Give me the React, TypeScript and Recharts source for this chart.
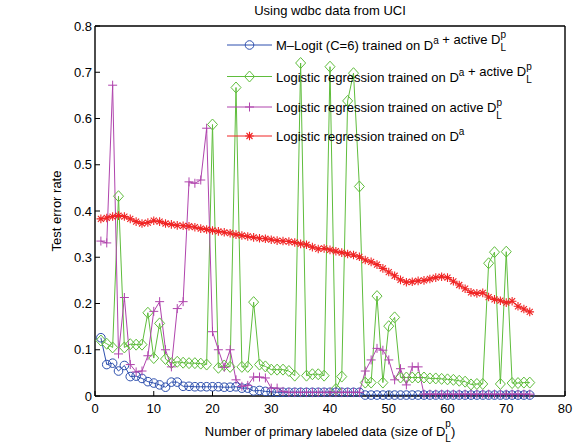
import React from "react";
import { LineChart, Line, XAxis, YAxis, Legend } from "recharts";

// test error rates, sample sizes 1..74
const mLogit = [
  0.126, 0.068, 0.071, 0.054, 0.066, 0.042, 0.043, 0.038, 0.031, 0.028,
  0.024, 0.019, 0.03, 0.03, 0.021, 0.021, 0.02, 0.02, 0.02, 0.02,
  0.02, 0.019, 0.019, 0.02, 0.017, 0.017, 0.011, 0.012, 0.01, 0.009,
  0.008, 0.008, 0.008, 0.008, 0.008, 0.008, 0.008, 0.008, 0.008, 0.008,
  0.008, 0.008, 0.008, 0.008, 0.008, 0.002, 0.002, 0.002, 0.002, 0.002,
  0.002, 0.002, 0.002, 0.002, 0.002, 0.002, 0.002, 0.002, 0.002, 0.002,
  0.002, 0.002, 0.002, 0.002, 0.002, 0.002, 0.002, 0.002, 0.002, 0.002,
  0.002, 0.002, 0.002, 0.002,
];
const lrBoth = [
  0.12, 0.113, 0.105, 0.432, 0.105, 0.112, 0.111, 0.111, 0.18, 0.082,
  0.157, 0.08, 0.071, 0.074, 0.072, 0.071, 0.071, 0.07, 0.068, 0.587,
  0.061, 0.066, 0.063, 0.667, 0.063, 0.063, 0.203, 0.068, 0.064, 0.057,
  0.057, 0.057, 0.054, 0.044, 0.72, 0.044, 0.047, 0.047, 0.044, 0.712,
  0.015, 0.042, 0.638, 0.698, 0.453, 0.029, 0.029, 0.216, 0.029, 0.151,
  0.17, 0.04, 0.04, 0.04, 0.04, 0.04, 0.038, 0.038, 0.037, 0.036,
  0.035, 0.033, 0.031, 0.025, 0.026, 0.026, 0.287, 0.311, 0.026, 0.312,
  0.028, 0.028, 0.029, 0.029,
];
const lrActive = [
  0.335, 0.331, 0.672, 0.091, 0.213, 0.068, 0.052, 0.054, 0.087, 0.183,
  0.204, 0.1, 0.063, 0.189, 0.204, 0.463, 0.46, 0.467, 0.579, 0.139,
  0.1, 0.062, 0.1, 0.035, 0.021, 0.023, 0.041, 0.041, 0.039, 0.017,
  0.017, 0.01, 0.008, 0.008, 0.008, 0.008, 0.008, 0.008, 0.008, 0.008,
  0.008, 0.008, 0.008, 0.008, 0.008, 0.054, 0.078, 0.103, 0.099, 0.078,
  0.035, 0.059, 0.024, 0.063, 0.063, 0.004, 0.004, 0.004, 0.004, 0.004,
  0.004, 0.004, 0.004, 0.004, 0.004, 0.004, 0.004, 0.004, 0.004, 0.004,
  0.004, 0.004, 0.004, 0.004,
];
const lrDa = [
  0.383, 0.385, 0.388, 0.39, 0.388, 0.383, 0.377, 0.373, 0.375, 0.379,
  0.377, 0.373, 0.371, 0.369, 0.368, 0.367, 0.365, 0.362, 0.36, 0.358,
  0.356, 0.354, 0.352, 0.349, 0.347, 0.345, 0.343, 0.341, 0.34, 0.338,
  0.336, 0.335, 0.334, 0.332, 0.329, 0.327, 0.322, 0.318, 0.319, 0.316,
  0.313, 0.31, 0.307, 0.305, 0.301, 0.294, 0.29, 0.284, 0.276, 0.268,
  0.26, 0.251, 0.246, 0.247, 0.249, 0.25, 0.253, 0.256, 0.258, 0.256,
  0.248, 0.24, 0.232, 0.224, 0.222, 0.223, 0.214, 0.209, 0.206, 0.202,
  0.205, 0.194, 0.188, 0.182,
];

const xTicks = [0, 10, 20, 30, 40, 50, 60, 70, 80];
const yTicks = [0, 0.1, 0.2, 0.3, 0.4, 0.5, 0.6, 0.7, 0.8];

const data = lrDa.map((v, i) => ({
  x: i + 1,
  mLogit: mLogit[i],
  lrBoth: lrBoth[i],
  lrActive: lrActive[i],
  lrDa: v,
}));

const BLUE = "#2d4fae";
const GREEN = "#5fbd3c";
const PURPLE = "#b044ad";
const RED = "#f02424";
const FONT = "'Liberation Sans', Arial, Helvetica, sans-serif";

const circle = (cx: number, cy: number, k?: any) => (
  <circle key={k} cx={cx} cy={cy} r={4.3} fill="none" stroke={BLUE} strokeWidth={1} />
);
const diamond = (cx: number, cy: number, k?: any) => (
  <path
    key={k}
    d={`M${cx},${cy - 5.5}L${cx + 5},${cy}L${cx},${cy + 5.5}L${cx - 5},${cy}Z`}
    fill="none"
    stroke={GREEN}
    strokeWidth={1}
  />
);
const plus = (cx: number, cy: number, k?: any) => (
  <path
    key={k}
    d={`M${cx - 4.5},${cy}H${cx + 4.5}M${cx},${cy - 4.5}V${cy + 4.5}`}
    stroke={PURPLE}
    strokeWidth={1}
  />
);
const star = (cx: number, cy: number, k?: any) => {
  const r = 4.3;
  const d = r * 0.7;
  return (
    <path
      key={k}
      d={`M${cx - r},${cy}H${cx + r}M${cx},${cy - r}V${cy + r}M${cx - d},${cy - d}L${cx + d},${cy + d}M${cx - d},${cy + d}L${cx + d},${cy - d}`}
      stroke={RED}
      strokeWidth={1.1}
    />
  );
};

const dotOf = (fn: any) => (p: any) => fn(p.cx, p.cy, `d${p.index}`);

// D with stacked super p / sub L
const DLp = () => [
  <tspan key="p" dy={-6} fontSize={10}>p</tspan>,
  <tspan key="L" dx={-5.6} dy={13} fontSize={10}>L</tspan>,
  <tspan key="r" dy={-7}>{""}</tspan>,
];
const Da = () => [
  <tspan key="a" dy={-6} fontSize={10}>a</tspan>,
  <tspan key="b" dy={6}>{""}</tspan>,
];

const legendRows = [
  { y: 45, color: BLUE, mark: circle, text: <>M–Logit (C=6) trained on D{Da()} + active D{DLp()}</> },
  { y: 76.5, color: GREEN, mark: diamond, text: <>Logistic regression trained on D{Da()} + active D{DLp()}</> },
  { y: 107, color: PURPLE, mark: plus, text: <>Logistic regression trained on active D{DLp()}</> },
  { y: 136, color: RED, mark: star, text: <>Logistic regression trained on D{Da()}</> },
];

const renderLegend = () => (
  <svg width={581} height={446} style={{ position: "absolute", left: 0, top: 0, overflow: "visible" }}>
    {legendRows.map((r, i) => (
      <g key={i}>
        <line x1={227} x2={272} y1={r.y} y2={r.y} stroke={r.color} strokeWidth={1} />
        {r.mark(249.5, r.y)}
        <text x={276} y={r.y + 5} fontSize={13} fontFamily={FONT} fill="#000">
          {r.text}
        </text>
      </g>
    ))}
  </svg>
);

export default function App() {
  const tickStyle = { fill: "#000", fontSize: 13, fontFamily: FONT };
  return (
    <div style={{ position: "absolute", left: 0, top: 0, width: 581, height: 446, background: "#fff" }}>
      <LineChart width={581} height={446} data={data} margin={{ top: 21, right: 11, left: 0, bottom: 0 }}>
        <XAxis
          dataKey="x"
          type="number"
          domain={[0, 80]}
          ticks={xTicks}
          height={50}
          tickSize={-5}
          tickMargin={13}
          tick={tickStyle}
          stroke="#000"
          strokeWidth={1.4}
          tickLine={{ stroke: "#000", strokeWidth: 1 }}
        />
        <XAxis
          xAxisId="top"
          orientation="top"
          dataKey="x"
          type="number"
          domain={[0, 80]}
          ticks={xTicks}
          height={5}
          tickSize={-5}
          tick={false}
          stroke="#000"
          strokeWidth={1.4}
          tickLine={{ stroke: "#000", strokeWidth: 1 }}
        />
        <YAxis
          domain={[0, 0.8]}
          ticks={yTicks}
          width={95}
          tickSize={-5}
          tickMargin={8}
          tick={tickStyle}
          tickFormatter={(v: number) => String(v)}
          stroke="#000"
          strokeWidth={1.4}
          tickLine={{ stroke: "#000", strokeWidth: 1 }}
        />
        <YAxis
          yAxisId="right"
          orientation="right"
          domain={[0, 0.8]}
          ticks={yTicks}
          width={5}
          tickSize={-5}
          tick={false}
          stroke="#000"
          strokeWidth={1.4}
          tickLine={{ stroke: "#000", strokeWidth: 1 }}
        />
        <Legend
          layout="horizontal"
          verticalAlign="middle"
          content={renderLegend}
          wrapperStyle={{ left: 0, top: 0, width: 581, height: 446, pointerEvents: "none" }}
        />
        <Line dataKey="mLogit" stroke={BLUE} strokeWidth={1} dot={dotOf(circle)} isAnimationActive={false} />
        <Line dataKey="lrBoth" stroke={GREEN} strokeWidth={1} dot={dotOf(diamond)} isAnimationActive={false} />
        <Line dataKey="lrActive" stroke={PURPLE} strokeWidth={1} dot={dotOf(plus)} isAnimationActive={false} />
        <Line dataKey="lrDa" stroke={RED} strokeWidth={1} dot={dotOf(star)} isAnimationActive={false} />
      </LineChart>
      <svg width={581} height={446} style={{ position: "absolute", left: 0, top: 0, pointerEvents: "none" }}>
        <text x={330} y={15} textAnchor="middle" fontSize={13} fontFamily={FONT} fill="#000">
          Using wdbc data from UCI
        </text>
        <text
          transform="translate(61,211) rotate(-90)"
          textAnchor="middle"
          fontSize={13}
          fontFamily={FONT}
          fill="#000"
        >
          Test error rate
        </text>
        <text x={330} y={436} textAnchor="middle" fontSize={13} fontFamily={FONT} fill="#000">
          Number of primary labeled data (size of D
          <tspan dy={-9} fontSize={10}>p</tspan>
          <tspan dx={-5.6} dy={15} fontSize={10}>L</tspan>
          <tspan dy={-6}>)</tspan>
        </text>
      </svg>
    </div>
  );
}
